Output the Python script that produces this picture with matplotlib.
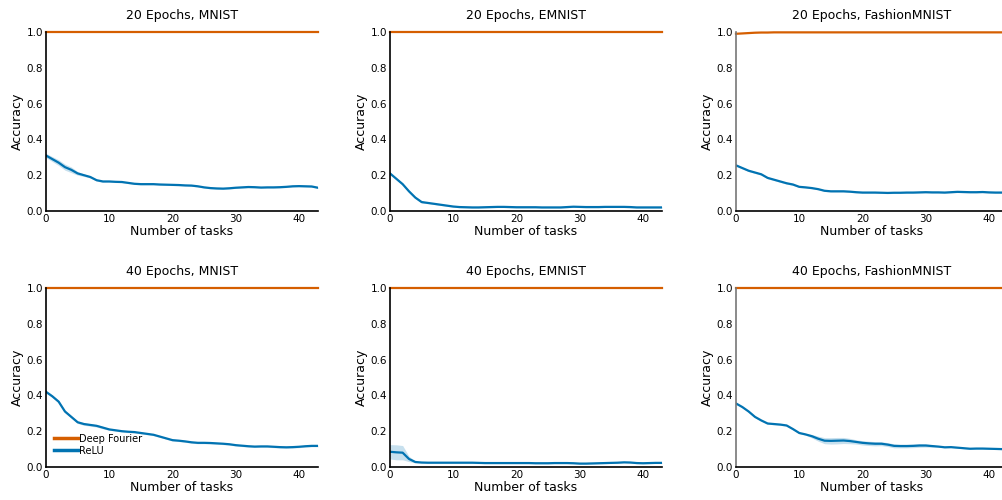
import numpy as np
import matplotlib
matplotlib.use("Agg")
import matplotlib.pyplot as plt

tasks = np.arange(44)

titles = ["20 Epochs, MNIST", "20 Epochs, EMNIST", "20 Epochs, FashionMNIST",
          "40 Epochs, MNIST", "40 Epochs, EMNIST", "40 Epochs, FashionMNIST"]

# mean accuracy per task, ReLU
relu_20_mnist = [0.31, 0.29, 0.27, 0.245, 0.23, 0.21, 0.20, 0.19, 0.172, 0.165,
                 0.165, 0.163, 0.162, 0.157, 0.152, 0.15, 0.15, 0.15, 0.148, 0.147,
                 0.146, 0.145, 0.143, 0.142, 0.138, 0.132, 0.128, 0.126, 0.125, 0.127,
                 0.13, 0.132, 0.134, 0.133, 0.131, 0.132, 0.132, 0.133, 0.135, 0.138,
                 0.139, 0.138, 0.137, 0.13]
relu_20_emnist = [0.21, 0.18, 0.15, 0.11, 0.075, 0.05, 0.045, 0.04, 0.035, 0.03,
                  0.025, 0.022, 0.021, 0.02, 0.02, 0.021, 0.022, 0.023, 0.023, 0.022,
                  0.021, 0.021, 0.021, 0.021, 0.02, 0.02, 0.02, 0.02, 0.022, 0.024,
                  0.023, 0.022, 0.022, 0.022, 0.023, 0.023, 0.023, 0.023, 0.022, 0.02,
                  0.02, 0.02, 0.02, 0.02]
relu_20_fashion = [0.255, 0.24, 0.225, 0.215, 0.205, 0.185, 0.175, 0.165, 0.155, 0.148,
                   0.135, 0.132, 0.128, 0.122, 0.113, 0.11, 0.11, 0.11, 0.108, 0.105,
                   0.103, 0.103, 0.103, 0.102, 0.101, 0.102, 0.102, 0.103, 0.103, 0.104,
                   0.105, 0.104, 0.104, 0.103, 0.105, 0.107, 0.106, 0.105, 0.105, 0.106,
                   0.104, 0.103, 0.103, 0.103]
relu_40_mnist = [0.42, 0.395, 0.365, 0.31, 0.28, 0.25, 0.24, 0.235, 0.23, 0.22,
                 0.21, 0.205, 0.2, 0.197, 0.195, 0.19, 0.185, 0.18, 0.17, 0.16,
                 0.15, 0.147, 0.143, 0.138, 0.135, 0.135, 0.134, 0.132, 0.13, 0.127,
                 0.122, 0.119, 0.116, 0.114, 0.115, 0.115, 0.113, 0.111, 0.11, 0.111,
                 0.113, 0.116, 0.118, 0.118]
relu_40_emnist = [0.085, 0.082, 0.08, 0.045, 0.028, 0.025, 0.024, 0.024, 0.024, 0.024,
                  0.024, 0.024, 0.024, 0.024, 0.023, 0.022, 0.022, 0.022, 0.022, 0.022,
                  0.022, 0.022, 0.022, 0.021, 0.021, 0.021, 0.022, 0.022, 0.022, 0.021,
                  0.019, 0.019, 0.02, 0.021, 0.022, 0.023, 0.024, 0.026, 0.025, 0.022,
                  0.021, 0.022, 0.023, 0.023]
relu_40_fashion = [0.355, 0.335, 0.31, 0.28, 0.26, 0.243, 0.24, 0.237, 0.232, 0.212,
                   0.19, 0.182, 0.172, 0.158, 0.147, 0.146, 0.147, 0.148, 0.145, 0.14,
                   0.135, 0.132, 0.13, 0.13, 0.125, 0.118, 0.117, 0.117, 0.118, 0.12,
                   0.12, 0.117, 0.114, 0.11, 0.111, 0.108, 0.105, 0.102, 0.103, 0.103,
                   0.102, 0.101, 0.1, 0.1]

# std across seeds, ReLU
relu_20_mnist_sd = [0.012, 0.014, 0.016, 0.017, 0.016, 0.01, 0.007, 0.006, 0.005, 0.005] + [0.004] * 34
relu_20_emnist_sd = [0.006] * 6 + [0.004] * 38
relu_20_fashion_sd = [0.005] * 10 + [0.004] * 34
relu_40_mnist_sd = [0.007] * 10 + [0.005] * 34
relu_40_emnist_sd = [0.04, 0.042, 0.04, 0.015, 0.005] + [0.003] * 39
relu_40_fashion_sd = [0.004] * 12 + [0.01, 0.014, 0.017, 0.018, 0.018, 0.017, 0.015, 0.012,
                                     0.012, 0.012, 0.012, 0.011, 0.011, 0.011, 0.01, 0.01,
                                     0.01, 0.01, 0.009, 0.007] + [0.003] * 12

# mean accuracy per task, Deep Fourier
fourier_20_mnist = [0.998] * 44
fourier_20_emnist = [0.999] * 44
fourier_20_fashion = [0.99, 0.992, 0.994, 0.996, 0.997, 0.997] + [0.998] * 38
fourier_40_mnist = [0.999] * 44
fourier_40_emnist = [0.999] * 44
fourier_40_fashion = [0.999] * 44

relu = [relu_20_mnist, relu_20_emnist, relu_20_fashion,
        relu_40_mnist, relu_40_emnist, relu_40_fashion]
relu_sd = [relu_20_mnist_sd, relu_20_emnist_sd, relu_20_fashion_sd,
           relu_40_mnist_sd, relu_40_emnist_sd, relu_40_fashion_sd]
fourier = [fourier_20_mnist, fourier_20_emnist, fourier_20_fashion,
           fourier_40_mnist, fourier_40_emnist, fourier_40_fashion]

c_fourier = "#d55e00"
c_relu = "#0173b2"

fig = plt.figure(figsize=(10.03, 5.0), dpi=100)

lefts = [46, 390, 736]
bottoms = [211, 467]
w, h = 272, 179

for i in range(6):
    r, c = divmod(i, 3)
    ax = fig.add_axes([lefts[c] / 1003, 1 - bottoms[r] / 500, w / 1003, h / 500])
    m = np.array(relu[i])
    sd = np.array(relu_sd[i])
    ax.fill_between(tasks, m - sd, m + sd, color=c_relu, alpha=0.22, lw=0)
    ax.plot(tasks, fourier[i], color=c_fourier, lw=1.6, label="Deep Fourier", clip_on=False)
    ax.plot(tasks, m, color=c_relu, lw=1.6, label="ReLU")
    ax.set_xlim(0, 43)
    ax.set_ylim(0, 1.0)
    ax.set_xticks([0, 10, 20, 30, 40])
    ax.set_yticks([0, 0.2, 0.4, 0.6, 0.8, 1.0])
    ax.tick_params(length=0, labelsize=7.5, pad=2)
    for s in ["top", "right"]:
        ax.spines[s].set_visible(False)
    ax.spines["left"].set_linewidth(1.2)
    ax.spines["bottom"].set_linewidth(1.2)
    if c == 2:
        ax.spines["left"].set_color("#777777")
    ax.set_xlabel("Number of tasks", fontsize=9, labelpad=1)
    ax.set_ylabel("Accuracy", fontsize=9, labelpad=2)
    ax.set_title(titles[i], fontsize=9, pad=9)
    if i == 3:
        leg = ax.legend(loc="lower left", bbox_to_anchor=(0.0, 0.02), frameon=False,
                        fontsize=7, handlelength=2.5, handletextpad=0.1, labelspacing=0.2,
                        borderpad=0.3)
        for ln in leg.get_lines():
            ln.set_linewidth(2.5)

fig.savefig("out.png", dpi=100)
